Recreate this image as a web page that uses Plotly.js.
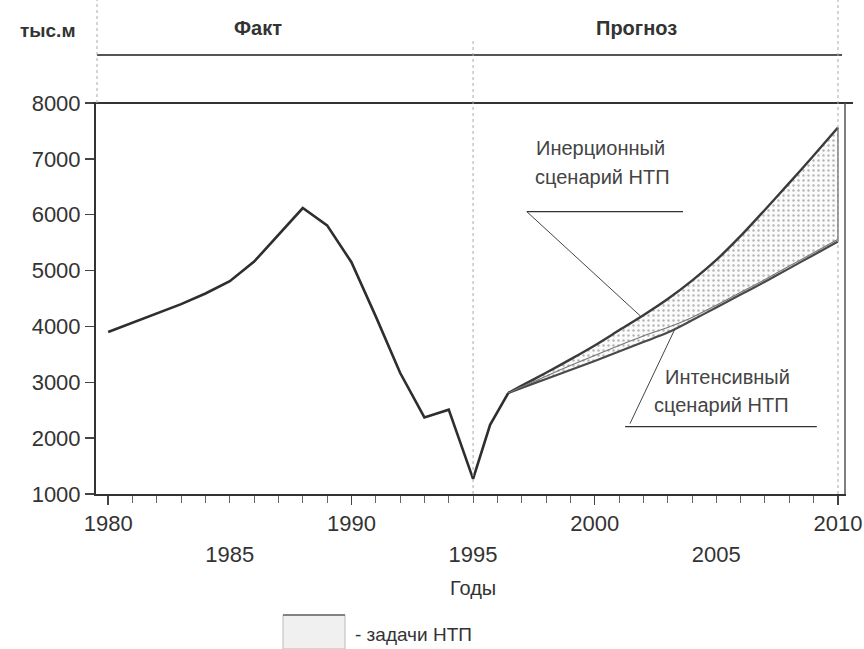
<!DOCTYPE html>
<html>
<head>
<meta charset="utf-8">
<script src="https://cdn.plot.ly/plotly-3.0.1.min.js"></script>
<style>
html,body{margin:0;padding:0;background:#fff;}
#chart{width:864px;height:649px;}
</style>
</head>
<body>
<div id="chart"></div>
<script>
// ---- data ----
const factYears  = [1980, 1983, 1984, 1985, 1986, 1987, 1988, 1989, 1990, 1991, 1992, 1993, 1994, 1995, 1995.7, 1996.45];
const factValues = [3900, 4400, 4590, 4810, 5160, 5640, 6120, 5810, 5150, 4180, 3170, 2370, 2510, 1270, 2240, 2810];

const forecastYears = [1996.45, 1997, 1998, 1999, 2000, 2001, 2002, 2003, 2004, 2005, 2006, 2007, 2008, 2009, 2010];
const inertialValues   = [2810, 2940, 3170, 3410, 3660, 3930, 4200, 4490, 4820, 5190, 5620, 6090, 6570, 7060, 7560];
const intensiveValues  = [2810, 2900, 3060, 3220, 3380, 3550, 3720, 3890, 4110, 4340, 4570, 4800, 5040, 5280, 5520];
const intensiveUpper   = [2810, 2920, 3110, 3300, 3480, 3660, 3830, 3980, 4160, 4380, 4610, 4840, 5080, 5320, 5560];

const xMainTicks   = [1980, 1990, 2000, 2010];
const xSecondTicks = [1985, 1995, 2005];
const yTicks       = [1000, 2000, 3000, 4000, 5000, 6000, 7000, 8000];

const headerLabels = {unit: 'тыс.м', fact: 'Факт', forecast: 'Прогноз'};
const xAxisLabel = 'Годы';
const legendLabel = '- задачи НТП';
const inertialLabel = ['Инерционный', 'сценарий НТП'];
const intensiveLabel = ['Интенсивный', 'сценарий НТП'];

// ---- chart ----
const FONT = 'Liberation Sans, Arial, sans-serif';
const lastI = forecastYears.length - 1;

const traces = [
  {x: factYears, y: factValues, mode: 'lines', line: {color: '#2e2e2e', width: 2.6}, hoverinfo: 'skip', showlegend: false},
  {x: forecastYears, y: intensiveValues, mode: 'lines', line: {color: '#4a4a4a', width: 2.2, shape: 'spline', smoothing: 0.8}, hoverinfo: 'skip', showlegend: false},
  {x: forecastYears, y: inertialValues, mode: 'lines', fill: 'tonexty',
   fillcolor: 'rgba(0,0,0,0)',
   fillpattern: {shape: '.', fgcolor: '#b5b5b5', bgcolor: '#fbfbfb', size: 5, solidity: 0.18},
   line: {color: '#3a3a3a', width: 2.4, shape: 'spline', smoothing: 0.8}, hoverinfo: 'skip', showlegend: false},
  {x: forecastYears, y: intensiveUpper, mode: 'lines', line: {color: '#777', width: 1.1, shape: 'spline', smoothing: 0.8}, hoverinfo: 'skip', showlegend: false},
  {x: [forecastYears[lastI], forecastYears[lastI]], y: [intensiveValues[lastI], inertialValues[lastI]],
   xaxis: 'x2', mode: 'lines', line: {color: '#777', width: 1.5}, hoverinfo: 'skip', showlegend: false}
];

const px = p => (p - 96) / 750;
const py = p => (494 - p) / 391;

function label(x, y, text, size, color, bold, anchor) {
  return {xref: 'paper', yref: 'paper', x: px(x), y: py(y), text: text, showarrow: false,
    xanchor: anchor || 'center', yanchor: 'middle',
    font: {size: size, family: FONT, color: color, weight: bold ? 'bold' : 'normal'}};
}

const layout = {
  width: 864, height: 649,
  margin: {l: 96, r: 18, t: 103, b: 155},
  paper_bgcolor: '#fff', plot_bgcolor: '#fff',
  font: {family: FONT, color: '#333'},
  showlegend: false,
  xaxis: {
    range: [1979.5, 2010.33], tickmode: 'array', tickvals: xMainTicks,
    ticks: 'outside', ticklen: 9, tickwidth: 1.5, tickcolor: '#444',
    minor: {tickmode: 'linear', tick0: 1980, dtick: 1, ticks: 'outside', ticklen: 7, tickcolor: '#666', tickwidth: 1},
    showline: true, linecolor: '#333', linewidth: 2, showgrid: false, zeroline: false,
    tickfont: {size: 22, family: FONT, color: '#333'}, fixedrange: true
  },
  xaxis2: {
    overlaying: 'x', matches: 'x', anchor: 'y', side: 'bottom',
    tickmode: 'array', tickvals: xSecondTicks, ticks: '', showline: false, showgrid: false, zeroline: false,
    ticklabelstandoff: 45,
    tickfont: {size: 22, family: FONT, color: '#333'}
  },
  yaxis: {
    range: [1000, 8000], tickmode: 'array', tickvals: yTicks,
    ticks: 'outside', ticklen: 9, tickwidth: 1.5, tickcolor: '#444',
    showline: true, linecolor: '#333', linewidth: 2, showgrid: false, zeroline: false,
    tickfont: {size: 22, family: FONT, color: '#333'}, fixedrange: true
  },
  shapes: [
    {type: 'line', xref: 'paper', yref: 'paper', x0: px(93), x1: px(853), y0: 1, y1: 1, line: {color: '#333', width: 2}},
    {type: 'line', xref: 'paper', yref: 'paper', x0: px(845), x1: px(845), y0: 0, y1: 1, line: {color: '#555', width: 1.5}},
    {type: 'line', xref: 'paper', yref: 'paper', x0: px(97), x1: px(842), y0: py(55), y1: py(55), line: {color: '#555', width: 2}},
    {type: 'line', xref: 'paper', yref: 'paper', x0: px(97), x1: px(97), y0: 1, y1: py(0), line: {color: '#aaa', width: 1, dash: 'dot'}},
    {type: 'line', xref: 'x', yref: 'paper', x0: 1995, x1: 1995, y0: 0, y1: py(38), line: {color: '#aaa', width: 1, dash: 'dot'}},
    {type: 'line', xref: 'x', yref: 'paper', x0: 2010, x1: 2010, y0: 0, y1: py(0), line: {color: '#aaa', width: 1, dash: 'dot'}},
    {type: 'line', xref: 'x', yref: 'y', x0: 1997.21, x1: 2003.63, y0: 6054, y1: 6054, line: {color: '#333', width: 1.3}},
    {type: 'line', xref: 'x', yref: 'y', x0: 1997.21, x1: 2001.87, y0: 6054, y1: 4190, line: {color: '#444', width: 1}},
    {type: 'line', xref: 'x', yref: 'y', x0: 2001.25, x1: 2009.13, y0: 2205, y1: 2205, line: {color: '#333', width: 1.3}},
    {type: 'line', xref: 'x', yref: 'y', x0: 2001.45, x1: 2003.3, y0: 2260, y1: 3956, line: {color: '#444', width: 1}},
    {type: 'rect', xref: 'paper', yref: 'paper', x0: px(283), x1: px(345), y0: py(649), y1: py(615),
     fillcolor: '#f0f0f0', line: {color: '#bbb', width: 1}},
    {type: 'line', xref: 'paper', yref: 'paper', x0: px(283), x1: px(345), y0: py(615), y1: py(615), line: {color: '#666', width: 1.5}}
  ],
  annotations: [
    label(47, 31, headerLabels.unit, 19, '#333', true),
    label(258, 28, headerLabels.fact, 20, '#333', true),
    label(636, 28, headerLabels.forecast, 20, '#333', true),
    label(473, 588, xAxisLabel, 20, '#333', false),
    label(353, 634, legendLabel, 19, '#333', false, 'left'),
    label(600, 148, inertialLabel[0], 20, '#444', false),
    label(602, 177, inertialLabel[1], 20, '#444', false),
    label(727, 377, intensiveLabel[0], 20, '#444', false),
    label(721, 405, intensiveLabel[1], 20, '#444', false)
  ]
};

Plotly.newPlot('chart', traces, layout, {staticPlot: true, displayModeBar: false});
</script>
</body>
</html>
